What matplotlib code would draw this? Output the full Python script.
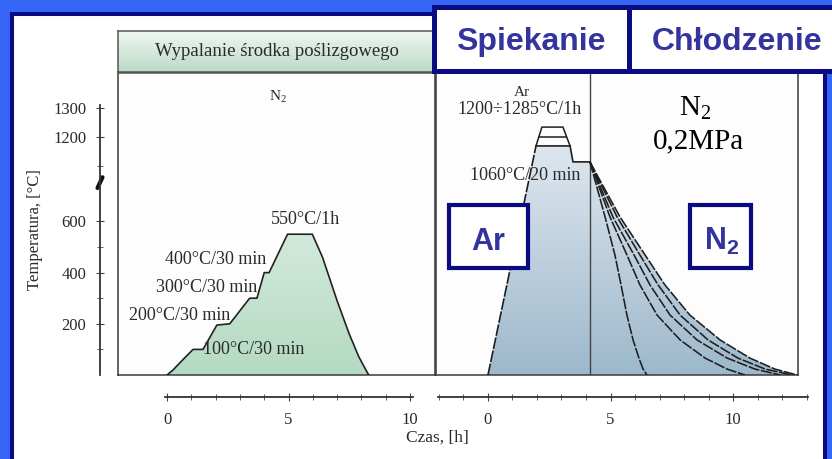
import matplotlib

matplotlib.use("Agg")
import matplotlib.pyplot as plt
import numpy as np
from matplotlib.colors import LinearSegmentedColormap
from matplotlib.patches import Polygon, Rectangle
from matplotlib.transforms import blended_transform_factory

W, H = 832, 459

# Wypalanie środka poślizgowego: czas [h], temperatura [°C]
burn_t = [0, 0.25, 0.55, 1.07, 1.48, 2.05, 2.58, 3.4, 3.7, 4.0, 4.2,
          4.96, 5.98, 6.4, 7.0, 7.5, 7.9, 8.3]
burn_T = [0, 20, 50, 100, 100, 195, 200, 300, 300, 400, 400,
          550, 550, 460, 290, 160, 70, 0]

# Spiekanie (Ar)
sinter_t = [0, 1.96, 3.35, 3.47, 4.16]
sinter_T = [0, 1170, 1170, 1115, 1115]
peak_hi_t = [1.96, 2.2, 3.06, 3.35]
peak_hi_T = [1170, 1235, 1235, 1170]
peak_mid_t = [2.08, 3.18]
peak_mid_T = [1200, 1200]

# Chłodzenie (N2) - five cooling curves, same temperature levels
cool_T = [1115, 617, 469, 352, 234, 137, 66, 23, 0]
cool_a_t = [4.16, 4.78, 5.18, 5.43, 5.67, 5.92, 6.16, 6.33, 6.49]
cool_b_t = [4.16, 4.98, 5.67, 6.2, 6.9, 7.84, 8.86, 9.76, 10.49]
cool_c_t = [4.16, 5.1, 5.96, 6.61, 7.43, 8.53, 9.76, 10.9, 11.92]
cool_d_t = [4.16, 5.27, 6.2, 6.94, 7.84, 8.98, 10.2, 11.31, 12.41]
cool_e_t = [4.16, 5.39, 6.41, 7.22, 8.24, 9.47, 10.69, 11.71, 12.61]

temp_ticks = [200, 400, 600, 1200, 1300]
temp_minor = [100, 300, 500, 1100]
time_ticks = [0, 5, 10]

NAVY = "#0a0a82"
BLUE = "#3565f5"
BOXTXT = "#34349e"
INK = "#2a2a2a"
SERIF = "Liberation Serif"
SANS = "Liberation Sans"

plt.rcParams["mathtext.fontset"] = "custom"
plt.rcParams["mathtext.rm"] = SERIF
plt.rcParams["mathtext.bf"] = "Liberation Sans:bold"


def temp_fwd(T):
    T = np.asarray(T, dtype=float)
    return np.where(T <= 700, 0.256 * T,
                    np.where(T < 1000, 179.2 + (T - 700) * 0.002,
                             179.8 + (T - 1000) * 0.29))


def temp_inv(f):
    f = np.asarray(f, dtype=float)
    return np.where(f <= 179.2, f / 0.256,
                    np.where(f < 179.8, 700 + (f - 179.2) / 0.002,
                             1000 + (f - 179.8) / 0.29))


def px_rect(x0, y0, x1, y1):
    return [x0 / W, 1 - y1 / H, (x1 - x0) / W, (y1 - y0) / H]


def fig_box(fig, x0, y0, x1, y1, **kw):
    r = Rectangle((x0 / W, 1 - y1 / H), (x1 - x0) / W, (y1 - y0) / H,
                  transform=fig.transFigure, **kw)
    fig.add_artist(r)
    return r


def ftext(fig, x, y, s, **kw):
    return fig.text(x / W, 1 - y / H, s, **kw)


def gradient_fill(ax, xs, ys, bottom, top):
    poly = Polygon(list(zip(xs, ys)), closed=True, facecolor="none",
                   edgecolor="none", transform=ax.transData)
    ax.add_patch(poly)
    cmap = LinearSegmentedColormap.from_list("g", [bottom, top])
    grad = np.linspace(0, 1, 256).reshape(-1, 1)
    im = ax.imshow(grad, cmap=cmap, aspect="auto", origin="lower",
                   extent=[0, 1, 0, 1], transform=ax.transAxes, zorder=1)
    im.set_clip_path(poly)


def panel(fig, rect):
    ax = fig.add_axes(rect)
    ax.set_yscale("function", functions=(temp_fwd, temp_inv))
    ax.set_xticks([])
    ax.set_yticks([])
    ax.minorticks_off()
    for s in ax.spines.values():
        s.set_color("#3a3a3a")
        s.set_linewidth(1.1)
    ax.set_facecolor("#fdfdfd")
    return ax


def time_axis(fig, rect, xlim, bounds, minor):
    ax = fig.add_axes(rect)
    ax.set_facecolor("none")
    for k in ("top", "left", "right"):
        ax.spines[k].set_visible(False)
    ax.spines["bottom"].set_bounds(*bounds)
    ax.spines["bottom"].set_color("#333")
    ax.spines["bottom"].set_linewidth(1.3)
    ax.set_yticks([])
    ax.set_xlim(*xlim)
    ax.set_xticks(time_ticks)
    ax.set_xticks(minor, minor=True)
    ax.tick_params(axis="x", which="both", direction="inout", colors="#444",
                   labelcolor=INK, labelsize=12, pad=8)
    ax.tick_params(axis="x", which="major", length=6)
    ax.tick_params(axis="x", which="minor", length=4)
    for lb in ax.get_xticklabels():
        lb.set_fontfamily(SERIF)
    return ax


fig = plt.figure(figsize=(W / 100, H / 100), dpi=100)
fig.patch.set_facecolor(BLUE)

# white slide area with navy frame
fig_box(fig, 12, 14, 825, 480, facecolor="white", edgecolor=NAVY,
        linewidth=2.9, zorder=-2)

# --- left panel: Wypalanie ---
ax1 = panel(fig, px_rect(118, 72, 435, 375))
gradient_fill(ax1, burn_t, burn_T, "#b4dac2", "#f5faf7")
ax1.plot(burn_t, burn_T, color="#222", lw=1.2, zorder=3)
ax1.set_xlim(-2.02, 11.03)
ax1.set_ylim(0, 1425)

# header strip
axh = fig.add_axes(px_rect(118, 31, 435, 72))
axh.imshow(np.linspace(0, 1, 64).reshape(-1, 1), aspect="auto",
           origin="lower", extent=[0, 1, 0, 1],
           cmap=LinearSegmentedColormap.from_list("h", ["#bcd9c7", "#eef7f1"]))
axh.set_xticks([])
axh.set_yticks([])
for s in axh.spines.values():
    s.set_color("#555")
    s.set_linewidth(1.1)
axh.spines["bottom"].set_linewidth(1.8)
axh.text(0.5, 0.5, "Wypalanie środka poślizgowego", transform=axh.transAxes,
         ha="center", va="center", fontsize=13.5, fontfamily=SERIF, color=INK)

# --- right panel: Spiekanie / Chłodzenie ---
ax2 = panel(fig, px_rect(436, 72, 798, 375))
fill_t = sinter_t + cool_e_t[1:]
fill_T = sinter_T + cool_T[1:]
gradient_fill(ax2, fill_t, fill_T, "#9db8cc", "#f3f6fa")
dash = (0, (7, 1.0))
ax2.plot(sinter_t[:2], sinter_T[:2], color="#1e1e1e", lw=1.2, ls=dash, zorder=3)
ax2.plot(sinter_t[1:], sinter_T[1:], color="#1e1e1e", lw=1.2, zorder=3)
ax2.plot(peak_hi_t, peak_hi_T, color="#1e1e1e", lw=1.1, zorder=3)
ax2.plot(peak_mid_t, peak_mid_T, color="#1e1e1e", lw=1.1, zorder=3)
for ct in (cool_a_t, cool_b_t, cool_c_t, cool_d_t, cool_e_t):
    ax2.plot(ct, cool_T, color="#1e1e1e", lw=1.15, ls=dash, zorder=3)
ax2.axvline(sinter_t[-1], color="#444", lw=1.0, zorder=2)
ax2.set_xlim(-2.12, 12.65)
ax2.set_ylim(0, 1425)

# --- temperature axis ---
axy = fig.add_axes(px_rect(100, 72, 110, 375))
axy.set_facecolor("none")
axy.set_yscale("function", functions=(temp_fwd, temp_inv))
axy.set_ylim(0, 1425)
for k in ("top", "bottom", "right"):
    axy.spines[k].set_visible(False)
axy.spines["left"].set_bounds(0, 1311)
axy.spines["left"].set_color("#333")
axy.spines["left"].set_linewidth(1.3)
axy.set_xticks([])
axy.set_yticks(temp_ticks)
axy.set_yticks(temp_minor, minor=True)
axy.set_yticklabels([str(v) for v in temp_ticks], fontfamily=SERIF)
axy.tick_params(axis="y", which="both", direction="inout", colors="#444",
                labelcolor=INK, labelsize=12, pad=7)
axy.tick_params(axis="y", which="major", length=6)
axy.tick_params(axis="y", which="minor", length=4)
brk = blended_transform_factory(axy.transAxes, axy.transData)
axy.plot([-0.25, 0.25], [1025, 1062], transform=brk, color="#111", lw=3,
         clip_on=False, solid_capstyle="round")

# --- time axes ---
time_axis(fig, px_rect(118, 396, 435, 397), (-2.02, 11.03), (-0.08, 10.12),
          list(range(0, 11)))
time_axis(fig, px_rect(436, 396, 810, 397), (-2.12, 13.14), (-2.04, 13.06),
          list(range(-2, 14)))

ftext(fig, 437, 438, "Czas, [h]", ha="center", va="center", fontsize=12.5,
      fontfamily=SERIF, color=INK)
ftext(fig, 35, 230, "Temperatura, [°C]", ha="center", va="center",
      rotation=90, fontsize=12, fontfamily=SERIF, color=INK)

# annotations on the scanned chart
ann = dict(fontsize=13, fontfamily=SERIF, color=INK, va="center")
ftext(fig, 278, 97, r"N$_2$", ha="center", fontsize=11, fontfamily=SERIF,
      color=INK, va="center")
ftext(fig, 305, 220, "550°C/1h", ha="center", **ann)
ftext(fig, 266, 259, "400°C/30 min", ha="right", **ann)
ftext(fig, 257, 287, "300°C/30 min", ha="right", **ann)
ftext(fig, 230, 316, "200°C/30 min", ha="right", **ann)
ftext(fig, 203, 350, "100°C/30 min", ha="left", **ann)
ftext(fig, 522, 93, "Ar", ha="center", fontsize=11, fontfamily=SERIF,
      color=INK, va="center")
ftext(fig, 520, 110, "1200÷1285°C/1h", ha="center", **ann)
ftext(fig, 525, 175, "1060°C/20 min", ha="center", **ann)
ftext(fig, 695, 115, r"N$_2$", ha="center", va="baseline", fontsize=21,
      fontfamily=SERIF, color="black")
ftext(fig, 698, 148, "0,2MPa", ha="center", va="baseline", fontsize=21,
      fontfamily=SERIF, color="black")

# slide boxes
box = dict(facecolor="white", edgecolor=NAVY, linewidth=3.6, zorder=5)
fig_box(fig, 433.5, 7.5, 628.5, 70.5, **box)
fig_box(fig, 628.5, 7.5, 845, 70.5, **box)
box_in = dict(facecolor="white", edgecolor=NAVY, linewidth=3.0, zorder=5)
fig_box(fig, 449, 205, 528, 268, **box_in)
fig_box(fig, 690, 205, 751, 268, **box_in)

big = dict(fontfamily=SANS, fontweight="bold", color=BOXTXT, zorder=6,
           ha="center", va="baseline")
ftext(fig, 531, 50, "Spiekanie", fontsize=23, **big)
ftext(fig, 737, 50, "Chłodzenie", fontsize=23, **big)
ftext(fig, 488, 250, "Ar", fontsize=22, **big)
ftext(fig, 722, 250, r"N$_{\mathbf{2}}$", fontsize=22, **big)

fig.savefig("out.png", dpi=100, facecolor=fig.get_facecolor())
